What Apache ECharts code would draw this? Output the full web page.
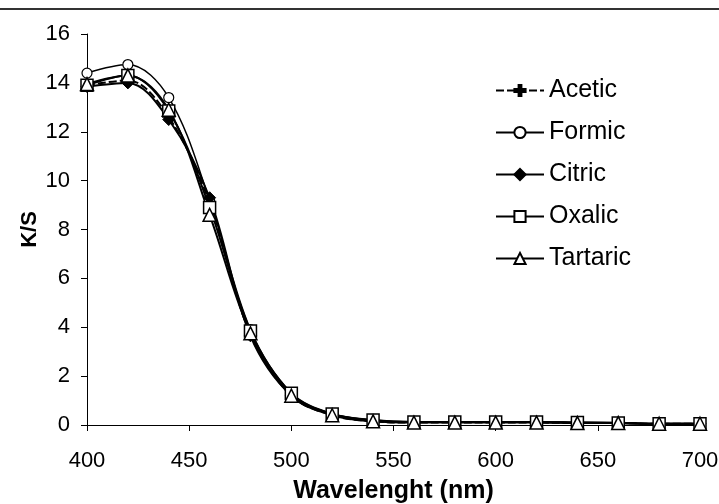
<!DOCTYPE html>
<html>
<head>
<meta charset="utf-8">
<script src="https://cdn.jsdelivr.net/npm/echarts@6/dist/echarts.min.js"></script>
<style>
  html, body { margin: 0; padding: 0; background: #fff; }
  #chart { width: 719px; height: 504px; }
</style>
</head>
<body>
<div id="chart"></div>
<script>
// wavelengths (nm)
var wavelengths = [400, 420, 440, 460, 480, 500, 520, 540, 560, 580, 600, 620, 640, 660, 680, 700];

// K/S values per acid
var acetic   = [13.9, 14.1, 12.6, 9.1, 3.7, 1.2, 0.4, 0.15, 0.1, 0.1, 0.1, 0.1, 0.08, 0.08, 0.05, 0.05];
var formic   = [14.4, 14.75, 13.4, 9.2, 3.9, 1.3, 0.45, 0.2, 0.12, 0.12, 0.12, 0.12, 0.1, 0.1, 0.05, 0.05];
var citric   = [13.85, 14.0, 12.5, 9.3, 3.65, 1.2, 0.45, 0.18, 0.12, 0.12, 0.12, 0.12, 0.1, 0.08, 0.05, 0.05];
var oxalic   = [13.9, 14.3, 12.85, 8.9, 3.85, 1.3, 0.45, 0.2, 0.12, 0.12, 0.12, 0.12, 0.1, 0.08, 0.05, 0.05];
var tartaric = [13.95, 14.3, 12.9, 8.6, 3.75, 1.2, 0.4, 0.15, 0.1, 0.1, 0.1, 0.1, 0.08, 0.08, 0.05, 0.05];

function pairs(vals) {
  return wavelengths.map(function (w, i) { return [w, vals[i]]; });
}

var font = 'Liberation Sans, Arial, sans-serif';
var plus = 'path://M3,0H5V3H8V5H5V8H3V5H0V3H3Z';

function line(name, vals, opts) {
  return Object.assign({
    name: name,
    type: 'line',
    smooth: 0.35,
    data: pairs(vals),
    symbolSize: 9,
    lineStyle: { color: '#000', width: 2 },
    itemStyle: { color: '#000', borderColor: '#000', borderWidth: 1 }
  }, opts);
}

var chart = echarts.init(document.getElementById('chart'));
chart.setOption({
  animation: false,
  backgroundColor: '#fff',
  graphic: [{
    type: 'line',
    shape: { x1: 0, y1: 9, x2: 719, y2: 9 },
    style: { stroke: '#333', lineWidth: 2 }
  }],
  grid: { left: 87, right: 19, top: 34, bottom: 79, containLabel: false, outerBoundsMode: 'none' },
  legend: {
    orient: 'vertical',
    left: 490,
    top: 73,
    itemGap: 17,
    itemWidth: 48,
    itemHeight: 14,
    textStyle: { fontFamily: font, fontSize: 25, color: '#000' },
    data: ['Acetic', 'Formic', 'Citric', 'Oxalic', 'Tartaric']
  },
  xAxis: {
    type: 'value',
    min: 400, max: 700, interval: 50,
    name: 'Wavelenght (nm)',
    nameLocation: 'middle',
    nameGap: 54,
    nameMoveOverlap: false,
    nameTextStyle: { fontFamily: font, fontSize: 25, fontWeight: 'bold', color: '#000' },
    axisLine: { lineStyle: { color: '#000', width: 1 } },
    axisTick: { length: 6, lineStyle: { color: '#000' } },
    axisLabel: { fontFamily: font, fontSize: 22, color: '#000', margin: 25 },
    splitLine: { show: false }
  },
  yAxis: {
    type: 'value',
    min: 0, max: 16, interval: 2,
    name: 'K/S',
    nameLocation: 'middle',
    nameGap: 46,
    nameMoveOverlap: false,
    nameTextStyle: { fontFamily: font, fontSize: 22, fontWeight: 'bold', color: '#000' },
    axisLine: { show: true, lineStyle: { color: '#000', width: 1 } },
    axisTick: { show: true, length: 6, lineStyle: { color: '#000' } },
    axisLabel: { fontFamily: font, fontSize: 22, color: '#000', margin: 17 },
    splitLine: { show: false }
  },
  series: [
    line('Acetic', acetic, { symbol: plus, symbolSize: 9, lineStyle: { color: '#000', width: 2, type: [8, 3] } }),
    line('Formic', formic, { symbol: 'circle', symbolSize: 10, lineStyle: { color: '#000', width: 1.5 },
      itemStyle: { color: '#fff', borderColor: '#000', borderWidth: 1.2 } }),
    line('Citric', citric, { symbol: 'diamond', symbolSize: 12 }),
    line('Oxalic', oxalic, { symbol: 'rect', symbolSize: 12,
      itemStyle: { color: '#fff', borderColor: '#000', borderWidth: 1.5 } }),
    line('Tartaric', tartaric, { symbol: 'triangle', symbolSize: 13,
      itemStyle: { color: '#fff', borderColor: '#000', borderWidth: 1.5 } })
  ]
});
</script>
</body>
</html>
